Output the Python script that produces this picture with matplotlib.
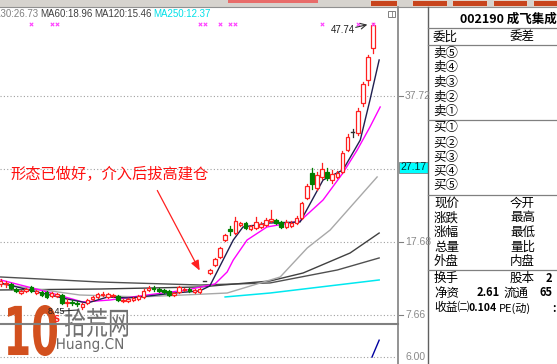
import numpy as np
import matplotlib.pyplot as plt
from matplotlib.patches import Rectangle, PathPatch
from matplotlib.textpath import TextPath
from matplotlib.font_manager import FontProperties
from matplotlib.transforms import Affine2D

plt.rcParams['font.family'] = ['Noto Sans CJK SC', 'DejaVu Sans']

W, H = 557, 364

# 日K线数据 (开, 收, 高, 低)
opens = [11.92, 11.92, 11.92, 11.23, 10.68, 10.96, 11.51, 10.68, 10.82, 10.82,
         10.27, 10.27, 10.41, 9.31, 9.45, 9.31, 8.76, 9.31, 9.86, 10.14,
         10.41, 10.14, 10.27, 10.27, 9.59, 9.59, 9.72, 9.86, 10.14, 11.10,
         11.37, 11.23, 11.10, 10.96, 10.41, 10.82, 11.10, 11.23, 10.82, 10.82,
         12.35, 13.43, 14.53, 15.62, 17.95, 19.46, 18.91, 20.01, 20.29, 19.46,
         19.60, 19.74, 20.01, 20.56, 20.70, 20.42, 19.74, 19.87, 20.29, 20.97,
         23.72, 27.15, 25.09, 26.60, 27.28, 26.18, 26.60, 27.28, 30.30, 32.77,
         32.63, 36.75, 39.90, 44.29]
closes = [12.33, 12.06, 11.37, 10.96, 10.96, 11.23, 10.96, 10.96, 10.41, 10.14,
          10.68, 10.55, 9.31, 9.45, 9.31, 9.18, 9.18, 9.72, 10.14, 10.55,
          10.55, 10.55, 10.41, 9.72, 9.72, 9.86, 10.00, 10.27, 10.96, 11.37,
          11.23, 10.96, 10.82, 10.41, 10.68, 11.51, 11.23, 10.96, 11.10, 11.23,
          12.35, 13.84, 15.35, 16.86, 18.64, 19.19, 20.56, 20.29, 19.60, 19.87,
          20.42, 20.15, 20.70, 20.84, 20.29, 19.74, 20.42, 20.29, 20.97, 23.03,
          25.36, 25.64, 26.87, 27.69, 26.46, 27.01, 27.15, 29.89, 32.08, 32.77,
          35.65, 39.35, 43.06, 47.45]
highs = [12.60, 12.33, 12.06, 11.37, 11.10, 11.37, 11.65, 11.10, 10.96, 10.96,
         10.82, 10.68, 10.55, 9.86, 9.72, 9.59, 9.31, 9.86, 10.27, 10.68,
         10.82, 10.68, 10.55, 10.41, 9.86, 10.00, 10.14, 10.41, 11.23, 11.65,
         11.65, 11.37, 11.23, 11.10, 10.82, 11.65, 11.37, 11.37, 11.23, 11.37,
         12.35, 13.98, 15.49, 17.00, 18.78, 19.87, 21.11, 20.42, 20.42, 20.01,
         21.11, 20.42, 20.97, 22.07, 20.84, 20.56, 20.70, 20.56, 21.25, 23.17,
         25.64, 27.83, 27.28, 28.52, 27.83, 27.56, 27.42, 30.16, 32.49, 33.18,
         36.06, 39.63, 43.33, 47.74]
lows = [11.65, 11.51, 11.23, 10.82, 10.55, 10.82, 10.82, 10.55, 10.27, 10.00,
        10.14, 10.14, 9.18, 8.90, 9.04, 8.90, 8.45, 9.18, 9.72, 10.00,
        10.27, 10.00, 10.14, 9.59, 9.45, 9.45, 9.59, 9.72, 10.00, 10.96,
        10.96, 10.82, 10.68, 10.27, 10.27, 10.68, 10.96, 10.82, 10.68, 10.68,
        12.35, 13.29, 14.39, 15.49, 17.82, 18.64, 18.78, 19.87, 19.46, 19.33,
        19.46, 19.60, 19.87, 20.42, 20.15, 19.60, 19.60, 19.74, 20.15, 20.84,
        23.58, 24.95, 24.81, 26.32, 26.18, 25.77, 26.46, 27.15, 30.16, 32.08,
        32.36, 36.34, 39.22, 43.61]

# 均线 (读图取点)
ma5_x = [0, 4, 8, 13, 17, 21, 25, 29, 34, 39, 41, 43.6, 45.6, 47.5, 52.8, 58.7, 63.2, 67.1, 70.5, 72.4, 74.2]
ma5_y = [12.06, 11.37, 10.68, 9.86, 9.31, 10.14, 10.00, 10.27, 10.68, 10.96, 11.65, 15.21, 17.95, 19.74,
         20.29, 20.42, 26.18, 27.56, 31.67, 37.16, 42.65]
ma10_x = [0, 7.7, 16.1, 21.4, 28.7, 36.5, 42, 44.4, 45.6, 48.3, 52.2, 56.7, 58.7, 63.2, 67.1, 69.9, 72.4, 74.4]
ma10_y = [12.47, 11.10, 9.45, 9.72, 10.41, 11.10, 11.92, 13.57, 15.21, 17.95, 19.74, 20.29, 20.56, 23.44,
          27.15, 30.30, 33.46, 36.20]
ma30_x = [0, 15.5, 27.3, 44.4, 54.8, 60.1, 64.6, 73.8]
ma30_y = [11.92, 10.41, 10.14, 10.68, 12.88, 16.86, 19.33, 26.60]
ma60_x = [0, 19.5, 39.1, 52.8, 59.3, 68.5, 74.2]
ma60_y = [11.10, 11.23, 11.51, 12.33, 13.43, 16.17, 18.91]
ma120_x = [0, 19.5, 39.1, 52.8, 66, 74.2]
ma120_y = [12.88, 12.19, 11.78, 12.06, 13.84, 15.49]
ma250_x = [44, 52.8, 74.2]
ma250_y = [10.14, 10.68, 12.47]

signal_idx = [6, 10, 11, 39, 40, 43, 45, 46, 63, 70, 73]
vol_x = [72.8, 74.2]
vol_y = [6.0, 8.4]

grid_vals = [37.72, 27.70, 17.68, 7.66]
axis_labels = ['37.72', '17.68', '7.66']

fig = plt.figure(figsize=(W / 100, H / 100), dpi=100)
fig.patch.set_facecolor('white')


def fy(y):
    return 1 - y / H


# 主图
ax = fig.add_axes([0, fy(324), 397 / W, (324 - 8) / H])
ax.set_xlim(-0.137, 77.7)
ax.set_ylim(6.43, 49.78)
ax.axis('off')

for g in grid_vals:
    ax.axhline(g, color='#a0a0a0', lw=0.8, ls=(0, (1, 2)), zorder=1)

ax.plot(ma250_x, ma250_y, color='#00e8f0', lw=1.1, zorder=2)
ax.plot(ma120_x, ma120_y, color='#505050', lw=1.0, zorder=2)
ax.plot(ma60_x, ma60_y, color='#404040', lw=1.0, zorder=2)
ax.plot(ma30_x, ma30_y, color='#a8a8a8', lw=1.0, zorder=2)
ax.plot(ma10_x, ma10_y, color='#ff00ff', lw=1.0, zorder=2)
ax.plot(ma5_x, ma5_y, color='#202050', lw=1.0, zorder=2)

bw = 0.7
for i in range(len(opens)):
    o, c, h, l = opens[i], closes[i], highs[i], lows[i]
    if c > o:
        col = '#ff2020'
        ax.plot([i, i], [c, h], color=col, lw=0.9, zorder=3)
        ax.plot([i, i], [l, o], color=col, lw=0.9, zorder=3)
        ax.add_patch(Rectangle((i - bw / 2, o), bw, c - o, facecolor='white',
                               edgecolor=col, lw=0.9, zorder=4))
    elif c < o:
        col = '#008000'
        ax.plot([i, i], [l, h], color=col, lw=0.9, zorder=3)
        ax.add_patch(Rectangle((i - bw / 2, c), bw, o - c, facecolor=col,
                               edgecolor=col, lw=0.9, zorder=4))
    else:
        col = '#303030'
        ax.plot([i, i], [l, h], color=col, lw=0.9, zorder=3)
        ax.plot([i - bw / 2, i + bw / 2], [o, o], color=col, lw=1.0, zorder=4)

ax.scatter(signal_idx, [0.95] * len(signal_idx), marker='x', s=6, lw=0.8,
           color='#ff40ff', transform=ax.get_xaxis_transform(), zorder=5)

# 成交量区
vax = fig.add_axes([0, 0, 397 / W, 40 / H])
vax.set_xlim(-0.137, 77.7)
vax.set_ylim(5.0, 10.71)
vax.axis('off')
vax.axhline(6.0, color='#a0a0a0', lw=0.8, ls=(0, (1, 2)))
vax.plot(vol_x, vol_y, color='#0000a0', lw=1.0)

# 叠加层 (像素坐标)
ov = fig.add_axes([0, 0, 1, 1], zorder=10)
ov.set_xlim(0, W)
ov.set_ylim(H, 0)
ov.axis('off')
ov.patch.set_alpha(0)

# 顶部工具条
ov.add_patch(Rectangle((0, 0), W, 7, facecolor='#d6d3ce', edgecolor='none'))
ov.plot([0, W], [7, 7], color='#909090', lw=0.8)
for bx0, bx1 in [(370, 397), (412, 447), (452, 487), (493, 527), (533, 557)]:
    ov.add_patch(Rectangle((bx0, 0), bx1 - bx0, 5.5, facecolor='#c8441c',
                           edgecolor='#e8e0d8', lw=0.6))
ov.add_patch(Rectangle((228, 0), 90, 3, facecolor='#f04040', edgecolor='none', alpha=0.7))

# 框线
ov.plot([398, 398], [7, H], color='#808080', lw=1.2)
ov.plot([428, 428], [7, H], color='#606060', lw=1.0)
ov.plot([0, 398], [324, 324], color='#808080', lw=1.5)
for yy in [28, 45, 120, 195, 270]:
    ov.plot([428, W], [yy, yy], color='#808080', lw=0.9)

# 右侧刻度
for lab, yy in zip(axis_labels, [96, 242, 315]):
    ov.plot([399, 403], [yy, yy], color='#808080', lw=0.8)
    ov.text(405, yy, lab, fontsize=7.5, color='#8a8a8a', va='center', ha='left',
            family='Liberation Sans')
ov.text(405, 357, '6.00', fontsize=7.5, color='#8a8a8a', va='center', ha='left',
        family='Liberation Sans')
ov.add_patch(Rectangle((398.5, 162), 29, 11, facecolor='#00ffff', edgecolor='#808080', lw=0.6))
ov.text(400, 167.5, '27.17', fontsize=7.5, color='#003030', va='center', ha='left',
        family='Liberation Sans')

# 顶部均线图例 (第一项被左边缘截断)
legend_items = [(-14, 'MA30:26.73', '#808080'), (40, 'MA60:18.96', '#404040'),
                (94, 'MA120:15.46', '#404040'), (153, 'MA250:12.37', '#00e0e8')]
for lx, txt, colr in legend_items:
    ov.text(lx, 14, txt, fontsize=7, color=colr, va='center', ha='left',
            family='Liberation Sans')
ov.add_patch(Rectangle((388, 11), 7, 6, facecolor='white', edgecolor='#808080', lw=0.7))
ov.plot([391.5, 391.5], [11, 17], color='#808080', lw=0.6)

# 最高价/最低价标注
ov.text(331, 30, '47.74', fontsize=7, color='#202020', va='center', ha='left',
        family='Liberation Sans')
ov.annotate('', xy=(370, 24), xytext=(353, 28),
            arrowprops=dict(arrowstyle='->', color='#303030', lw=0.8))
ov.text(48, 311, '8.45', fontsize=6.5, color='#202020', va='center', ha='left',
        family='Liberation Sans')
ov.plot([62, 78], [311, 310], color='#303030', lw=0.8)
ov.text(56, 319, 'S', fontsize=6, fontweight='bold', color='#ff2020', va='center',
        ha='center', family='DejaVu Sans')

# 说明文字与箭头
ov.text(10, 174, '形态已做好，介入后拔高建仓', fontsize=11, color='#ff1010',
        va='center', ha='left')
ov.annotate('', xy=(201, 273), xytext=(156, 188),
            arrowprops=dict(arrowstyle='-|>,head_length=0.6,head_width=0.25',
                            color='#ff2020', lw=0.9))

# 右侧盘口面板
ov.text(508, 19, '002190 成飞集成', fontsize=9, fontweight='bold', color='black',
        va='center', ha='center')
ov.text(433, 37, '委比', fontsize=9, va='center')
ov.text(510, 37, '委差', fontsize=9, va='center')
for k, yy in enumerate([53, 67, 82, 97, 111]):
    ov.text(433, yy, '卖' + '⑤④③②①'[k], fontsize=9, va='center')
for k, yy in enumerate([128, 143, 157, 172, 186]):
    ov.text(433, yy, '买' + '①②③④⑤'[k], fontsize=9, va='center')
left_items = ['现价', '涨跌', '涨幅', '总量', '外盘']
right_items = ['今开', '最高', '最低', '量比', '内盘']
for k, yy in enumerate([203, 218, 232, 247, 261]):
    ov.text(434, yy, left_items[k], fontsize=9, va='center')
    ov.text(510, yy, right_items[k], fontsize=9, va='center')
ov.text(434, 278, '换手', fontsize=9, va='center')
ov.text(510, 278, '股本', fontsize=9, va='center')
ov.text(546, 278, '2', fontsize=8, fontweight='bold', va='center')
ov.text(434, 293, '净资', fontsize=9, va='center')
ov.text(500, 293, '2.61', fontsize=8, fontweight='bold', va='center', ha='right')
ov.text(503, 293, '流通', fontsize=9, va='center')
ov.text(539, 293, '65', fontsize=8, fontweight='bold', va='center')
ov.text(434, 308, '收益㈡', fontsize=8.5, va='center')
ov.text(497, 308, '0.104', fontsize=7.5, fontweight='bold', va='center', ha='right')
ov.text(499, 308, 'PE(动)', fontsize=8, va='center')
ov.text(552, 308, ':', fontsize=8, fontweight='bold', va='center')


# 水印
def fit_text(s, x0, y0, x1, y1, color, weight='normal', family='DejaVu Sans'):
    tp = TextPath((0, 0), s, size=20, prop=FontProperties(family=family, weight=weight))
    ext = tp.get_extents()
    tr = (Affine2D().translate(-ext.x0, -ext.y0)
          .scale((x1 - x0) / ext.width, -(y1 - y0) / ext.height)
          .translate(x0, y1))
    ov.add_patch(PathPatch(tr.transform_path(tp), facecolor=color, edgecolor='none'))


fit_text('10', 8, 305, 57, 356, '#d2501e', weight='bold')
fit_text('拾荒网', 65, 308, 128, 337, '#707070', family='Noto Sans CJK SC')
fit_text('Huang.CN', 57, 338, 123, 352, '#6a6a6a')

fig.savefig('out.png', dpi=100)
